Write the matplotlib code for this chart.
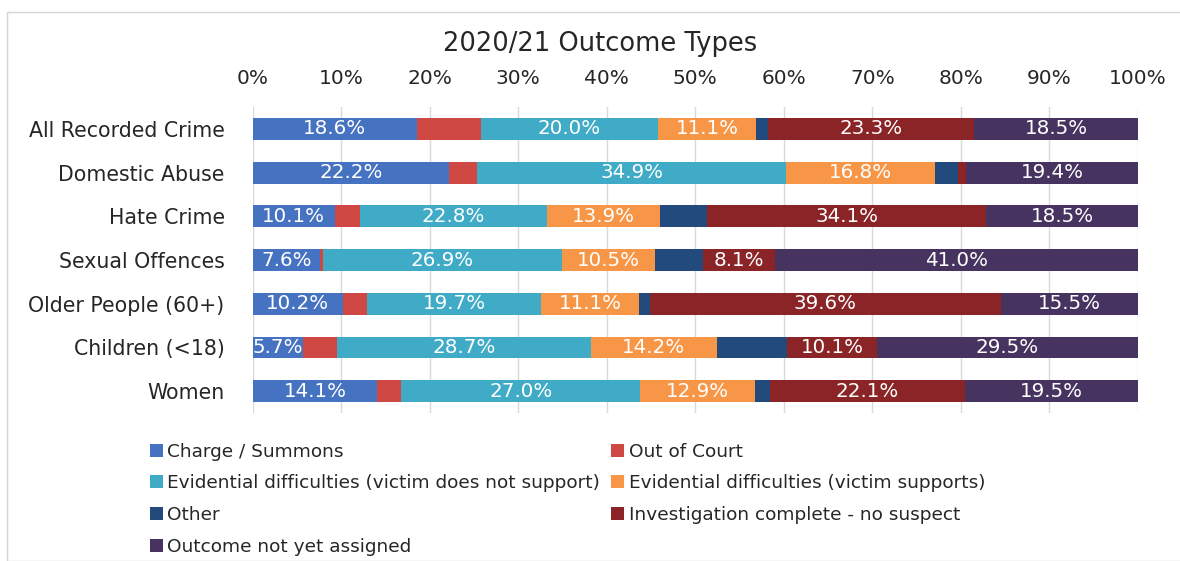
import matplotlib
matplotlib.use("Agg")
import matplotlib.pyplot as plt
from matplotlib.patches import Rectangle, Patch
import numpy as np

plt.rcParams['font.family'] = ['DejaVu Sans']

categories = ["All Recorded Crime", "Domestic Abuse", "Hate Crime", "Sexual Offences",
              "Older People (60+)", "Children (<18)", "Women"]

series_names = ["Charge / Summons", "Out of Court",
                "Evidential difficulties (victim does not support)",
                "Evidential difficulties (victim supports)", "Other",
                "Investigation complete - no suspect", "Outcome not yet assigned"]

charge_summons = [18.6, 22.2, 10.1, 7.6, 10.2, 5.7, 14.1]
out_of_court = [7.2, 3.2, 3.0, 0.4, 2.7, 3.8, 2.7]
evid_not_support = [20.0, 34.9, 22.8, 26.9, 19.7, 28.7, 27.0]
evid_supports = [11.1, 16.8, 13.9, 10.5, 11.1, 14.2, 12.9]
other = [1.3, 2.6, 5.7, 5.5, 1.2, 8.0, 1.7]
investigation_no_suspect = [23.3, 0.9, 34.1, 8.1, 39.6, 10.1, 22.1]
not_yet_assigned = [18.5, 19.4, 18.5, 41.0, 15.5, 29.5, 19.5]

series_values = [charge_summons, out_of_court, evid_not_support, evid_supports,
                 other, investigation_no_suspect, not_yet_assigned]
colors = ["#4672c2", "#cf4844", "#3fabc6", "#f79646", "#234a7c", "#8a2426", "#46335f"]
labelled = [True, False, True, True, False, True, True]

W, H = 1180, 561
fig = plt.figure(figsize=(W / 100, H / 100), dpi=100)
fig.patch.set_facecolor("white")

# chart frame
fig.add_artist(Rectangle((7 / W, 0 / H), (W + 20) / W, (H - 12) / H,
                         transform=fig.transFigure, fill=False,
                         edgecolor="#d4d4d4", linewidth=1.0))

ax_left, ax_right, ax_top, ax_bottom = 252.5, 1138, 107, 413
ax = fig.add_axes([ax_left / W, 1 - ax_bottom / H,
                   (ax_right - ax_left) / W, (ax_bottom - ax_top) / H])

data = np.array(series_values, dtype=float)
totals = data.sum(axis=0)
shares = data / totals * 100.0

y = np.arange(len(categories))
left = np.zeros(len(categories))
for i, name in enumerate(series_names):
    bars = ax.barh(y, shares[i], left=left, height=0.5, color=colors[i],
                   label=name, zorder=3)
    if labelled[i]:
        for j, b in enumerate(bars):
            v = series_values[i][j]
            if v >= 2:
                ax.text(left[j] + shares[i][j] / 2, y[j], f"{v:.1f}%",
                        ha="center", va="center", color="white",
                        fontsize=14.3, zorder=4, clip_on=False)
    left += shares[i]

ax.set_xlim(0, 100)
ax.set_ylim(len(categories) - 0.5, -0.5)
ax.set_xticks(np.arange(0, 101, 10))
ax.set_xticklabels([f"{t}%" for t in range(0, 101, 10)], fontsize=14.5, color="#262626")
ax.xaxis.tick_top()
ax.tick_params(axis="x", length=0, pad=14)
ax.set_yticks(y)
ax.set_yticklabels(categories, fontsize=14.8, color="#262626")
ax.tick_params(axis="y", length=0, pad=20)
ax.grid(axis="x", color="#d9d9d9", linewidth=1.0, zorder=0)
for s in ax.spines.values():
    s.set_visible(False)

fig.text(600.5 / W, 1 - 44 / H, "2020/21 Outcome Types", ha="center", va="center",
         fontsize=18.5, color="#262626")

# legend: two columns, filled row-wise
order = [0, 2, 4, 6, 1, 3, 5]
handles = [Patch(facecolor=colors[k]) for k in order]
labels = [series_names[k] for k in order]
fig.legend(handles, labels, ncol=2, loc="upper left",
           bbox_to_anchor=(133 / W, 1 - 426 / H), frameon=False,
           fontsize=13.3, handlelength=0.7, handleheight=0.7,
           handletextpad=0.25, columnspacing=0.6, labelspacing=0.74,
           labelcolor="#262626")

fig.savefig("out.png", dpi=100, facecolor="white")
